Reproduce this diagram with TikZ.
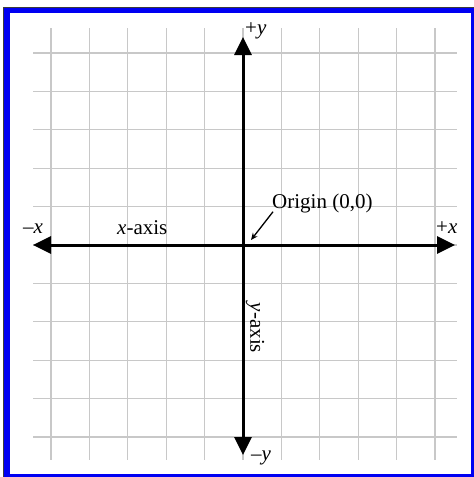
\documentclass[tikz,border=0pt]{standalone}
\usepackage{fontspec}
\setmainfont{Liberation Serif}
\usetikzlibrary{positioning, arrows.meta, calc}
\definecolor{frameblue}{HTML}{0000F2}
\definecolor{framegray}{HTML}{3C3C3C}
\definecolor{gridgray}{HTML}{C8C8C8}

\begin{document}
\begin{tikzpicture}[x=1pt, y=-1pt,
    gridline/.style={draw=gridgray, line width=1.2pt},
    axisline/.style={line width=3pt,
      {Triangle[length=18pt, width=17pt]}-{Triangle[length=18pt, width=17pt]}},
    lbl/.style={inner sep=0pt, font=\fontsize{21}{24}\selectfont}]
  \useasboundingbox (0,0) rectangle (474,477);
  % frame
  \fill[framegray] (3,7) rectangle (474,477);
  \fill[frameblue] (4,8) rectangle (474,477);
  \fill[white] (10,13) rectangle (471,474);
  % grid
  \foreach \k in {0,...,10} {
    \draw[gridline] ({51+38.4*\k},28) -- ({51+38.4*\k},460);
    \draw[gridline] (33,{53+38.4*\k}) -- (457,{53+38.4*\k});
  }
  % axes
  \coordinate (orig) at (243,245);
  \coordinate (xneg) at (33,245);
  \coordinate (xpos) at (455,245);
  \coordinate (ypos) at (243,37);
  \coordinate (yneg) at (243,455);
  \draw[axisline] (xneg) -- (xpos);
  \draw[axisline] (yneg) -- (ypos);
  % labels
  \node[lbl, anchor=base west] (pylbl) at (245,34) {+\textit{y}};
  \node[lbl, anchor=base west] (nylbl) at (251,460) {\textendash\textit{y}};
  \node[lbl, anchor=base west] (nxlbl) at (23,233) {\textendash\textit{x}};
  \node[lbl, anchor=base west] (pxlbl) at (436,233) {+\textit{x}};
  \node[lbl, anchor=base west] (xaxis) at (117,234) {\textit{x}-axis};
  \node[lbl, rotate=-90] (yaxis) at (255,328) {\textit{y}-axis};
  \node[lbl, anchor=base west] (origlbl) at (272,208) {Origin (0,0)};
  \draw[line width=1.3pt, -{Stealth[length=7pt, width=6pt]}]
    (origlbl.south west) ++(1,-1) -- ($(orig)+(8,-5)$);
\end{tikzpicture}
\end{document}
